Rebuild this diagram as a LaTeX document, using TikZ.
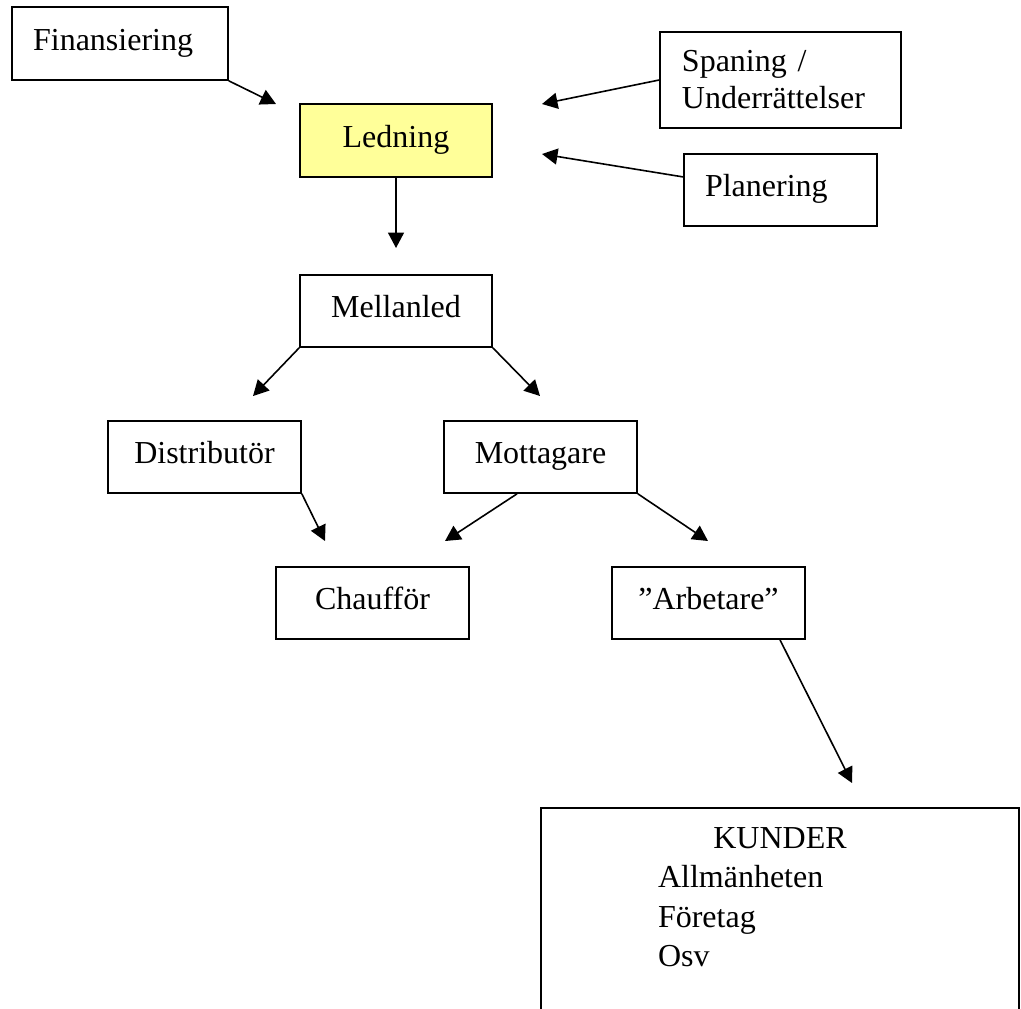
\documentclass[tikz,border=0pt]{standalone}
\usepackage{fontspec}
\setmainfont{Liberation Serif}
\usepackage{xcolor}
\usetikzlibrary{arrows.meta}
\definecolor{ledyellow}{HTML}{FFFF99}

\begin{document}
\begin{tikzpicture}[
			x=0.375pt, y=-0.375pt,
			every node/.style={font=\fontsize{12}{13.9}\selectfont},
			box/.style={draw, line width=0.6pt, rectangle, inner sep=0pt},
			unit/.style={box, minimum width=72.4pt, minimum height=27pt, text height=8pt, text depth=3pt, align=center},
			arrow/.style={-{Triangle[length=5.8pt,width=6pt]}, line width=0.6pt}
			]
			\useasboundingbox (0,0) rectangle (1021,1008);
			\clip (0,0) rectangle (1021,1008);
			
			% Nodes
			\node (fin) [unit, minimum width=81pt, minimum height=27.4pt, inner xsep=7.9pt, text width=65.2pt, align=left] at (120,43.5) {Finansiering};
			\node (led) [unit, fill=ledyellow, minimum width=72pt, minimum height=27.4pt] at (396,140.5) {Ledning};
			\node (span) [box, minimum width=90.4pt, minimum height=36pt, inner xsep=8.25pt, text width=73.9pt, align=left] at (780.5,80) {Spaning /\\Underrättelser};
			\node (plan) [unit, inner xsep=7.9pt, text width=56.6pt, align=left] at (780.5,190) {Planering};
			\node (mel) [unit, minimum width=72pt] at (396,311) {Mellanled};
			\node (dist) [unit] at (204.5,457) {Distributör};
			\node (mott) [unit] at (540.5,457) {Mottagare};
			\node (chauf) [unit] at (372.5,603) {Chaufför};
			\node (arb) [unit] at (708.5,603) {”Arbetare”};
			\node (kund) [box, anchor=north, inner xsep=43.9pt, inner ysep=7.5pt, text width=91.5pt, align=left, font=\fontsize{12}{14.7}\selectfont] at (780,807) {\hfill KUNDER\hfill\null\\Allmänheten\\Företag\\Osv\rule[-30pt]{0pt}{30pt}};
			
			% Free ends
			\coordinate (finEnd) at (276,104);
			\coordinate (ledEnd) at (396,248);
			\coordinate (spanEnd) at (542,104);
			\coordinate (planEnd) at (542,154);
			\coordinate (distIn) at (253,396);
			\coordinate (mottIn) at (540,396);
			\coordinate (chaufInA) at (325,541);
			\coordinate (chaufInB) at (445,541);
			\coordinate (arbIn) at (708,541);
			\coordinate (kundIn) at (852,783);
			
			% Connections
			\draw [arrow] (fin.south east) -- (finEnd);
			\draw [arrow] (led.south) -- (ledEnd);
			\draw [arrow] (span.west) -- (spanEnd);
			\draw [arrow] ([yshift=4.9pt]plan.west) -- (planEnd);
			\draw [arrow] (mel.south west) -- (distIn);
			\draw [arrow] (mel.south east) -- (mottIn);
			\draw [arrow] (dist.south east) -- (chaufInA);
			\draw [arrow] ([xshift=-8.8pt]mott.south) -- (chaufInB);
			\draw [arrow] (mott.south east) -- (arbIn);
			\draw [arrow] ([xshift=26.8pt]arb.south) -- (kundIn);
			
		\end{tikzpicture}
\end{document}
